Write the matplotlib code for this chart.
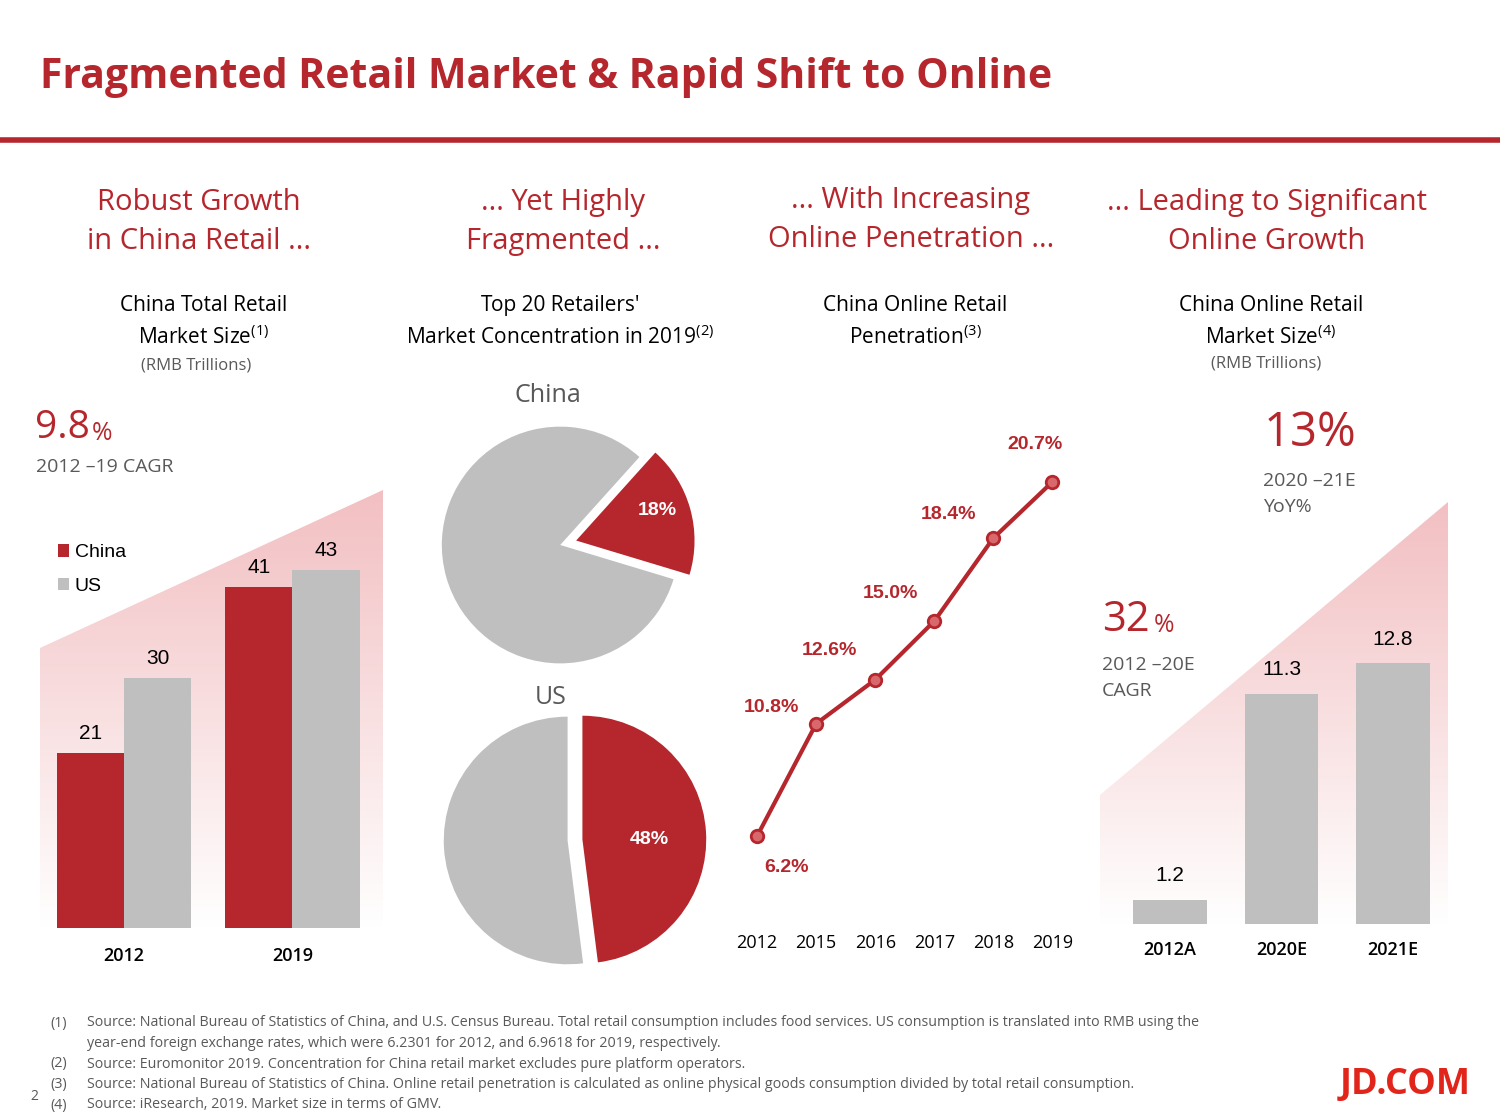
import matplotlib
matplotlib.use("Agg")
import matplotlib.pyplot as plt
import numpy as np
from matplotlib.patches import Polygon

RED = "#b5272d"
GREY = "#bfbfbf"
DARK = "#595959"

retail_years = ["2012", "2019"]
china_retail = [21, 41]
us_retail = [30, 43]
china_pie = [18, 82]
us_pie = [48, 52]
pen_years = ["2012", "2015", "2016", "2017", "2018", "2019"]
penetration = [6.2, 10.8, 12.6, 15.0, 18.4, 20.7]
online_years = ["2012A", "2020E", "2021E"]
online_size = [1.2, 11.3, 12.8]

W, H = 1500, 1120
fig = plt.figure(figsize=(15, 11.2), dpi=100)
plt.rcParams["font.family"] = "Open Sans"

def ax_px(x, y, w, h):
    return fig.add_axes([x / W, 1 - (y + h) / H, w / W, h / H])

ov = fig.add_axes([0, 0, 1, 1], zorder=0)
ov.set_xlim(0, W); ov.set_ylim(H, 0); ov.axis("off")

def T(x, y, s, **kw):
    kw.setdefault("ha", "center"); kw.setdefault("va", "center")
    ov.text(x, y, s, **kw)

# title
T(40, 78, "Fragmented Retail Market & Rapid Shift to Online", ha="left", fontsize=29.5, color=RED, fontweight="bold")
ov.plot([0, W], [140, 140], color=RED, lw=4)

# gradients
def grad(poly, ytop, ybot):
    g = np.linspace(0, 1, 256).reshape(-1, 1)
    c1 = np.array([0.95, 0.75, 0.76]); c2 = np.array([1, 1, 1])
    img = c1[None, None, :] * (1 - g[..., None]) + c2[None, None, :] * g[..., None]
    xs = [p[0] for p in poly]
    im = ov.imshow(img, extent=[min(xs), max(xs), ybot, ytop], aspect="auto", zorder=0.5)
    pg = Polygon(poly, closed=True, transform=ov.transData, facecolor="none", edgecolor="none")
    ov.add_patch(pg); im.set_clip_path(pg)
grad([(40, 648), (383, 490), (383, 928), (40, 928)], 490, 928)
grad([(1100, 795), (1448, 502), (1448, 925), (1100, 925)], 502, 925)

# headings
hk = dict(fontsize=21, color=RED, linespacing=1.45)
T(199, 222, "Robust Growth\nin China Retail ...", **hk)
T(563, 222, "... Yet Highly\nFragmented ...", **hk)
T(911, 220, "... With Increasing\nOnline Penetration ...", **hk)
T(1267, 222, "... Leading to Significant\nOnline Growth", **hk)
sk = dict(fontsize=15, color="black", linespacing=1.5)
T(204, 322, "China Total Retail\nMarket Size$^{\\mathregular{(1)}}$", **sk)
T(560, 322, "Top 20 Retailers'\nMarket Concentration in 2019$^{\\mathregular{(2)}}$", **sk)
T(915, 322, "China Online Retail\nPenetration$^{\\mathregular{(3)}}$", **sk)
T(1271, 322, "China Online Retail\nMarket Size$^{\\mathregular{(4)}}$", **sk)
T(196, 365, "(RMB Trillions)", fontsize=12, color=DARK)
T(1266, 364, "(RMB Trillions)", fontsize=12, color=DARK)

# CAGR texts
ov.text(35, 428, "9.8", fontsize=28, color=RED, ha="left", va="center")
ov.text(92, 433, "%", fontsize=18, color=RED, ha="left", va="center")
T(36, 467, "2012 –19 CAGR", ha="left", fontsize=14, color=DARK)
T(1264, 433, "13%", ha="left", fontsize=34, color=RED)
T(1263, 494, "2020 –21E\nYoY%", ha="left", fontsize=14, color=DARK, linespacing=1.5)
ov.text(1102, 620, "32", fontsize=30, color=RED, ha="left", va="center")
ov.text(1154, 626, "%", fontsize=18, color=RED, ha="left", va="center")
T(1102, 678, "2012 –20E\nCAGR", ha="left", fontsize=14, color=DARK, linespacing=1.5)

# panel 1 bars
a1 = ax_px(40, 400, 340, 528)
x = np.arange(len(retail_years))
a1.bar(x - 0.2, china_retail, 0.4, color=RED, label="China")
a1.bar(x + 0.2, us_retail, 0.4, color=GREY, label="US")
for i in range(len(x)):
    a1.text(x[i] - 0.2, china_retail[i] + 1.2, str(china_retail[i]), ha="center", va="bottom", fontsize=15, fontfamily="Liberation Sans")
    a1.text(x[i] + 0.2, us_retail[i] + 1.2, str(us_retail[i]), ha="center", va="bottom", fontsize=15, fontfamily="Liberation Sans")
a1.set_xlim(-0.5, 1.52); a1.set_ylim(0, 63.4)
a1.set_xticks(x, retail_years, fontsize=13, fontweight="semibold")
a1.tick_params(length=0, pad=14)
a1.set_yticks([])
for s in a1.spines.values(): s.set_visible(False)
a1.patch.set_alpha(0)
a1.legend(loc="upper left", bbox_to_anchor=(0.0, 0.76), frameon=False,
          handlelength=0.6, handleheight=0.6, handletextpad=0.3, labelspacing=0.85,
          prop={"family": "Liberation Sans", "size": 14})

# pies
T(548, 396, "China", fontsize=18, color=DARK)
T(551, 697, "US", fontsize=18, color=DARK)
p1 = ax_px(430, 410, 290, 270)
p1.pie(china_pie, colors=[RED, GREY], startangle=48, counterclock=False,
       explode=[0.14, 0], radius=1.0, wedgeprops=dict(linewidth=0))
p1.text(0.82, 0.29, f"{china_pie[0]}%", color="white", fontsize=14, fontweight="bold", ha="center", va="center", fontfamily="Liberation Sans")
p1.set_aspect("equal"); p1.set_xlim(-1.1, 1.35); p1.set_ylim(-1.1, 1.1)
p2 = ax_px(430, 710, 290, 260)
p2.pie(us_pie, colors=[RED, GREY], startangle=90, counterclock=False,
       explode=[0.06, 0.06], radius=1.0, wedgeprops=dict(linewidth=0))
p2.text(0.6, 0.0, f"{us_pie[0]}%", color="white", fontsize=14, fontweight="bold", ha="center", va="center", fontfamily="Liberation Sans")
p2.set_aspect("equal"); p2.set_xlim(-1.1, 1.1); p2.set_ylim(-1.05, 1.05)

# line
a3 = ax_px(730, 400, 350, 530)
xl = np.arange(len(pen_years))
a3.plot(xl, penetration, color=RED, lw=3, marker="o", ms=9, mfc="#d9686d", mec=RED, mew=2)
dxs = [0.5, -0.75, -0.78, -0.75, -0.75, -0.3]
dys = [-1.27, 0.65, 1.2, 1.15, 0.95, 1.55]
for i, v in enumerate(penetration):
    a3.text(xl[i] + dxs[i], v + dys[i], f"{v:.1f}%", color=RED, fontsize=14, fontweight="bold",
            ha="center", va="center", fontfamily="Liberation Sans")
a3.set_xlim(-0.46, 5.47); a3.set_ylim(2.35, 24.06)
a3.set_xticks(xl, pen_years, fontsize=13)
a3.tick_params(length=0, pad=3)
a3.set_yticks([])
for s in a3.spines.values(): s.set_visible(False)
a3.patch.set_alpha(0)

# panel 4 bars
a4 = ax_px(1100, 400, 360, 524)
x4 = np.arange(len(online_years))
a4.bar(x4, online_size, 0.66, color=GREY)
for i, v in enumerate(online_size):
    a4.text(x4[i], v + 0.7, f"{v}", ha="center", va="bottom", fontsize=15, fontfamily="Liberation Sans")
a4.set_xlim(-0.628, 2.6); a4.set_ylim(0, 25.7)
a4.set_xticks(x4, online_years, fontsize=13, fontweight="semibold")
a4.tick_params(length=0, pad=12)
a4.set_yticks([])
for s in a4.spines.values(): s.set_visible(False)
a4.patch.set_alpha(0)

# footnotes
notes = [("(1)", "Source: National Bureau of Statistics of China, and U.S. Census Bureau. Total retail consumption includes food services. US consumption is translated into RMB using the"),
         ("", "year-end foreign exchange rates, which were 6.2301 for 2012, and 6.9618 for 2019, respectively."),
         ("(2)", "Source: Euromonitor 2019. Concentration for China retail market excludes pure platform operators."),
         ("(3)", "Source: National Bureau of Statistics of China. Online retail penetration is calculated as online physical goods consumption divided by total retail consumption."),
         ("(4)", "Source: iResearch, 2019. Market size in terms of GMV.")]
for i, (n, t) in enumerate(notes):
    y = 1023 + i * 20.5
    T(50, y, n, ha="left", fontsize=10.3, color=DARK)
    T(87, y, t, ha="left", fontsize=10.3, color=DARK)
T(30, 1097, "2", ha="left", fontsize=10, color=DARK)
T(1340, 1085, "JD.COM", ha="left", fontsize=26, color="#e1251b", fontweight="bold")

fig.savefig("out.png", dpi=100, facecolor="white")
